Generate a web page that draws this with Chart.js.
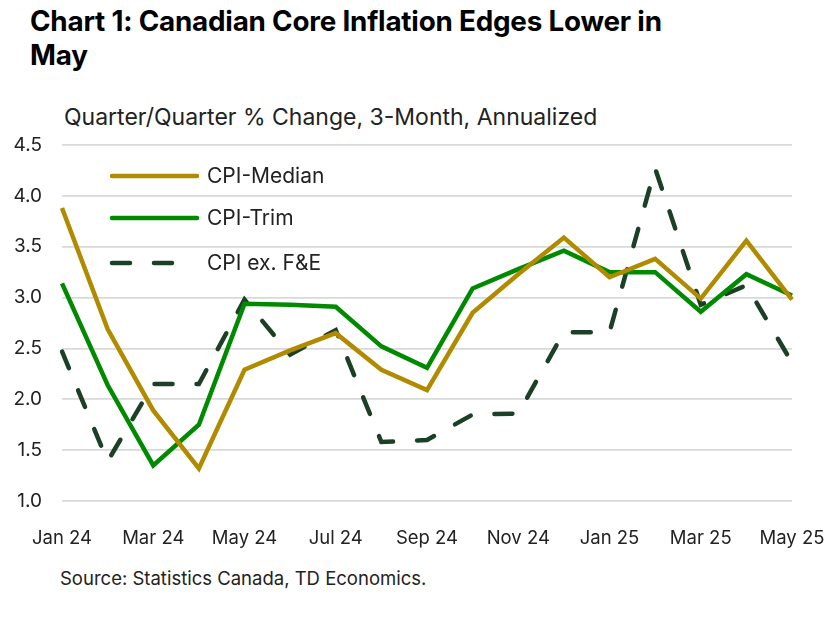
<!DOCTYPE html>
<html><head><meta charset="utf-8">
<script src="https://cdn.jsdelivr.net/npm/chart.js@4/dist/chart.umd.min.js"></script>
<style>
html,body{margin:0;padding:0;background:#fff;}
body{width:827px;height:617px;position:relative;overflow:hidden;font-family:Inter,"Noto Sans",sans-serif;color:#111;}
#title{position:absolute;left:30px;top:4px;width:660px;font-weight:700;font-size:27.8px;line-height:34px;letter-spacing:-0.2px;color:#000;}
#sub{position:absolute;left:64px;top:103px;font-size:23px;line-height:28px;color:#222;}
#src{position:absolute;left:60px;top:566px;font-size:18.5px;line-height:24px;color:#222;}
#wrap{position:absolute;left:0;top:0;width:827px;height:617px;}
</style></head><body>
<div id="title">Chart 1: Canadian Core Inflation Edges Lower in May</div>
<div id="sub">Quarter/Quarter % Change, 3-Month, Annualized</div>
<div id="src">Source: Statistics Canada, TD Economics.</div>
<div id="wrap"><canvas id="c" width="827" height="617"></canvas></div>
<script>
const months = ["Jan 24","Feb 24","Mar 24","Apr 24","May 24","Jun 24","Jul 24","Aug 24","Sep 24","Oct 24","Nov 24","Dec 24","Jan 25","Feb 25","Mar 25","Apr 25","May 25"];
const cpiMedian = [3.88,2.69,1.89,1.32,2.29,2.48,2.65,2.29,2.09,2.85,3.23,3.59,3.20,3.38,2.99,3.56,2.98];
const cpiTrim   = [3.14,2.14,1.35,1.75,2.94,2.93,2.91,2.52,2.31,3.09,3.28,3.46,3.25,3.25,2.86,3.23,3.02];
const cpiExFE   = [2.47,1.39,2.15,2.15,2.98,2.44,2.68,1.58,1.60,1.85,1.86,2.66,2.66,4.27,2.93,3.12,2.36];
const yTicks = [1.0,1.5,2.0,2.5,3.0,3.5,4.0,4.5];

const legendPlugin = {
  id:'inlegend',
  afterDraw(chart){
    const ctx = chart.ctx;
    const ys=[176,218,263];
    chart.data.datasets.forEach((ds,i)=>{
      ctx.save();
      ctx.strokeStyle=ds.borderColor;
      ctx.lineWidth=ds.borderWidth;
      ctx.lineCap='round';
      ctx.setLineDash(ds.borderDash||[]);
      ctx.beginPath();ctx.moveTo(112,ys[i]);ctx.lineTo(ds.borderDash?173:197,ys[i]);ctx.stroke();
      ctx.restore();
      ctx.save();
      ctx.fillStyle='#222';
      ctx.font='21px Inter, "Noto Sans", sans-serif';
      ctx.textBaseline='middle';
      ctx.fillText(ds.label,207,ys[i]+1);
      ctx.restore();
    });
  }
};

new Chart(document.getElementById('c'),{
  type:'line',
  data:{labels:months,datasets:[
    {label:'CPI-Median',data:cpiMedian,borderColor:'#B08B00',borderWidth:4.5,pointRadius:0,tension:0,fill:false},
    {label:'CPI-Trim',data:cpiTrim,borderColor:'#008A00',borderWidth:4.5,pointRadius:0,tension:0,fill:false},
    {label:'CPI ex. F&E',data:cpiExFE,borderColor:'#1B4025',borderWidth:4.5,borderDash:[18,24],borderCapStyle:'round',pointRadius:0,tension:0,fill:false}
  ]},
  options:{
    responsive:false,animation:false,
    layout:{padding:{left:0,right:35,top:145,bottom:66}},
    plugins:{legend:{display:false},tooltip:{enabled:false}},
    scales:{
      x:{
        grid:{display:false},border:{display:false},
        ticks:{autoSkip:false,maxRotation:0,padding:18,color:'#222',font:{family:'Inter, "Noto Sans", sans-serif',size:18.5},
          callback:function(v,i){return i%2===0?months[i]:'';}},
        afterFit(s){s.height=50;s.paddingLeft=0;s.paddingRight=0;}
      },
      y:{
        min:1.0,max:4.5,
        afterBuildTicks(s){s.ticks=yTicks.map(v=>({value:v}));},
        grid:{color:'#d9d9d9',lineWidth:1.8,drawTicks:false},border:{display:false},
        ticks:{padding:20,color:'#222',font:{family:'Inter, "Noto Sans", sans-serif',size:19},callback:v=>v.toFixed(1)},
        afterFit(s){s.width=62;s.paddingTop=0;s.paddingBottom=0;}
      }
    }
  },
  plugins:[legendPlugin]
});
</script>
</body></html>
